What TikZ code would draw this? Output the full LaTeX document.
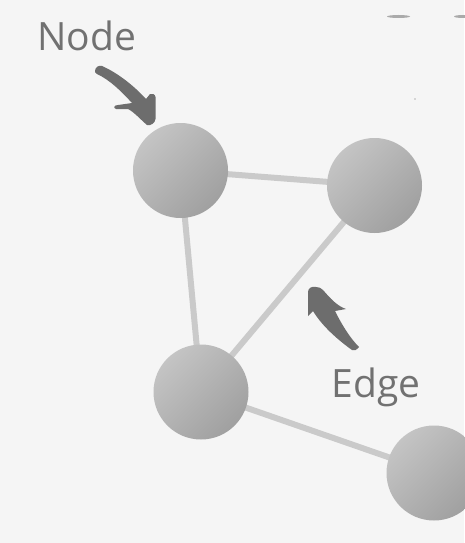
\documentclass[tikz,border=0pt]{standalone}
\usepackage{fontspec}
\setmainfont{Open Sans}
\definecolor{bg}{HTML}{F5F5F5}
\definecolor{edgegray}{HTML}{CACACA}
\definecolor{arrowgray}{HTML}{6D6D6D}
\definecolor{textgray}{HTML}{717171}
\definecolor{nodelight}{HTML}{C4C4C4}
\definecolor{nodedark}{HTML}{A0A0A0}
\begin{document}
\begin{tikzpicture}[x=1pt,y=-1pt,
  ball/.style={circle, inner sep=0pt, minimum size=95pt, draw=none,
    top color=nodelight, bottom color=nodedark, shading angle=45},
  link/.style={draw=edgegray, line width=6pt},
  label/.style={inner sep=0pt, anchor=base, text=textgray, font=\fontsize{39}{39}\selectfont},
  bigarrow/.style={fill=arrowgray, draw=none}]
\fill[bg] (0,0) rectangle (464,543);
\useasboundingbox (0,0) rectangle (464,543);
% edges first
\coordinate (c1) at (180.5,170.5);
\coordinate (c2) at (374.5,185.5);
\coordinate (c3) at (201,392);
\coordinate (c4) at (434,473);
\draw[link] (c1) -- (c2);
\draw[link] (c1) -- (c3);
\draw[link] (c3) -- (c2);
\draw[link] (c3) -- (c4);
% nodes
\node[ball] (n1) at (c1) {};
\node[ball] (n2) at (c2) {};
\node[ball] (n3) at (c3) {};
\node[ball] (n4) at (c4) {};
% slivers at top right
\fill[nodedark!90!white] (398.5,16.5) ellipse [x radius=11.5, y radius=1.5];
\fill[nodedark!90!white] (463,16.5) ellipse [x radius=9, y radius=1.5];
\fill[arrowgray] (415,99) circle [radius=0.6];
% labels
\node[label] (tnode) at (86.5,51) {Node};
\node[label] (tedge) at (376,397) {Edge};
% Node arrow
\fill[bigarrow] (95,71) .. controls (95,67) and (99,65) .. (102,66)
  .. controls (120,74) and (136,88) .. (146,99)
  -- (150,94) .. controls (152,93) and (155,94) .. (155.5,97)
  -- (155.5,119) .. controls (155,123) and (151,126) .. (147,125)
  .. controls (140,119) and (134,112) .. (128,109)
  -- (116,109) .. controls (113,108) and (114,105) .. (118,105)
  -- (132,103)
  .. controls (122,92) and (110,80) .. (97,74)
  .. controls (95,73) and (95,72) .. (95,71) -- cycle;
% Edge arrow
\fill[bigarrow] (308,292) .. controls (308,288) and (312,286) .. (316,287)
  .. controls (319,287) and (321,288) .. (323,290)
  .. controls (330,298) and (337,306) .. (346,309)
  -- (335,311)
  .. controls (342,325) and (350,338) .. (359,347)
  .. controls (357,350) and (354,351) .. (352,350)
  .. controls (338,340) and (322,326) .. (313,311)
  -- (308,316) -- cycle;
\end{tikzpicture}
\end{document}
